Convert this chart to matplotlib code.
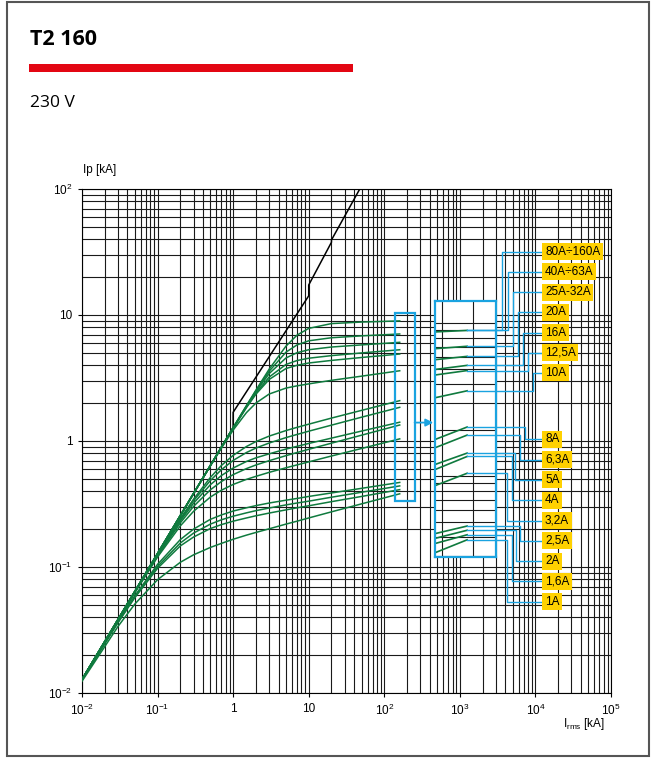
import numpy as np
import matplotlib
matplotlib.use("Agg")
import matplotlib.pyplot as plt
from matplotlib import ticker
from matplotlib.lines import Line2D
from matplotlib.patches import Rectangle

plt.rcParams['font.family'] = ['Liberation Sans', 'DejaVu Sans']
plt.rcParams['mathtext.fontset'] = 'custom'
plt.rcParams['mathtext.rm'] = 'Liberation Sans'
plt.rcParams['mathtext.it'] = 'Liberation Sans:italic'

# prospective symmetrical current Irms [kA] where the curves are read
irms = [0.01, 0.03, 0.05, 0.1, 0.2, 0.3, 0.5, 0.7, 1, 1.5, 2, 3, 5, 7, 10, 20, 50, 160]

# let-through peak current Ip [kA], one list per curve
ip_80_160 = [0.0128, 0.0384, 0.064, 0.128, 0.256, 0.384, 0.640, 0.896, 1.28, 1.91, 2.53,
             3.72, 5.66, 6.92, 7.83, 8.55, 8.79, 8.98]
ip_25_32 = [0.0128, 0.0384, 0.064, 0.128, 0.256, 0.384, 0.640, 0.895, 1.275, 1.90, 2.50,
            3.58, 5.07, 5.79, 6.24, 6.60, 6.83, 7.07]
ip_20 = [0.0128, 0.0384, 0.064, 0.128, 0.256, 0.384, 0.640, 0.894, 1.27, 1.88, 2.46,
         3.43, 4.56, 5.02, 5.30, 5.57, 5.79, 6.07]
ip_16 = [0.0128, 0.0384, 0.064, 0.128, 0.256, 0.384, 0.639, 0.892, 1.266, 1.86, 2.40,
         3.22, 4.05, 4.35, 4.54, 4.76, 5.00, 5.30]
ip_12_5 = [0.0128, 0.0384, 0.064, 0.128, 0.256, 0.384, 0.639, 0.891, 1.262, 1.84, 2.35,
           3.08, 3.76, 3.99, 4.16, 4.36, 4.60, 4.90]
ip_10 = [0.0128, 0.0384, 0.064, 0.128, 0.256, 0.384, 0.635, 0.878, 1.22, 1.68, 2.00,
         2.36, 2.63, 2.74, 2.84, 3.03, 3.27, 3.61]
ip_8 = [0.0128, 0.0383, 0.0636, 0.126, 0.242, 0.346, 0.514, 0.640, 0.769, 0.904, 0.989,
        1.094, 1.21, 1.283, 1.36, 1.52, 1.75, 2.09]
ip_6_3 = [0.0128, 0.0382, 0.0635, 0.125, 0.238, 0.336, 0.486, 0.592, 0.701, 0.810, 0.879,
          0.964, 1.064, 1.127, 1.196, 1.336, 1.545, 1.85]
ip_5 = [0.0128, 0.0382, 0.0633, 0.124, 0.232, 0.321, 0.450, 0.532, 0.610, 0.688, 0.735,
        0.791, 0.863, 0.907, 0.956, 1.054, 1.199, 1.41]
ip_4 = [0.0128, 0.0381, 0.0630, 0.122, 0.224, 0.303, 0.410, 0.477, 0.541, 0.604, 0.645,
        0.698, 0.765, 0.810, 0.859, 0.961, 1.112, 1.34]
ip_3_2 = [0.0128, 0.0380, 0.0626, 0.120, 0.212, 0.277, 0.359, 0.407, 0.452, 0.496, 0.524,
          0.564, 0.613, 0.646, 0.683, 0.760, 0.872, 1.04]
ip_2_5 = [0.0127, 0.0369, 0.0591, 0.105, 0.165, 0.200, 0.239, 0.259, 0.278, 0.295, 0.307,
          0.322, 0.339, 0.350, 0.363, 0.387, 0.421, 0.469]
ip_2 = [0.0127, 0.0366, 0.0582, 0.101, 0.155, 0.186, 0.219, 0.237, 0.253, 0.269, 0.280,
        0.294, 0.311, 0.322, 0.333, 0.358, 0.392, 0.440]
ip_1_6 = [0.0127, 0.0362, 0.0571, 0.0977, 0.147, 0.173, 0.202, 0.217, 0.231, 0.245, 0.255,
          0.268, 0.284, 0.295, 0.306, 0.330, 0.363, 0.411]
ip_1 = [0.0124, 0.0338, 0.0508, 0.0793, 0.109, 0.125, 0.143, 0.154, 0.166, 0.179, 0.188,
        0.201, 0.219, 0.231, 0.245, 0.274, 0.317, 0.381]

curves = [ip_80_160, ip_25_32, ip_20, ip_16, ip_12_5, ip_10,
          ip_8, ip_6_3, ip_5, ip_4, ip_3_2,
          ip_2_5, ip_2, ip_1_6, ip_1]

# prospective peak (black line)
peak_x = [0.01, 1, 1, 10, 10, 20, 20, 50]
peak_y = [0.0127, 1.28, 1.69, 14.2, 17.3, 37.8, 39.4, 106]

upper_labels = ["80A÷160A", "40A÷63A", "25A-32A", "20A", "16A", "12,5A", "10A"]
lower_labels = ["8A", "6,3A", "5A", "4A", "3,2A", "2,5A", "2A", "1,6A", "1A"]
label_curves = [ip_80_160, ip_80_160, ip_25_32, ip_20, ip_16, ip_12_5, ip_10,
                ip_8, ip_6_3, ip_5, ip_4, ip_3_2, ip_2_5, ip_2, ip_1_6, ip_1]

x_ticks = [1e-2, 1e-1, 1, 10, 1e2, 1e3, 1e4, 1e5]
x_ticklabels = [r'$\mathregular{10^{-2}}$', r'$\mathregular{10^{-1}}$', '1', '10',
                r'$\mathregular{10^{2}}$', r'$\mathregular{10^{3}}$',
                r'$\mathregular{10^{4}}$', r'$\mathregular{10^{5}}$']
y_ticks = [1e-2, 1e-1, 1, 10, 1e2]
y_ticklabels = [r'$\mathregular{10^{-2}}$', r'$\mathregular{10^{-1}}$', '1', '10',
                r'$\mathregular{10^{2}}$']

W, H = 652, 758
GREEN = '#0f7a3e'
BLUE = '#1aa3e0'
YELLOW = '#ffd100'


def fx(px):
    return px / W


def fy(py):
    return 1 - py / H


fig = plt.figure(figsize=(W / 100, H / 100), dpi=100)

# main chart
ax = fig.add_axes([fx(82), fy(693), (611 - 82) / W, (693 - 189) / H])
ax.set_xscale('log')
ax.set_yscale('log')
ax.set_xlim(1e-2, 1e5)
ax.set_ylim(1e-2, 1e2)
ax.set_xticks(x_ticks, x_ticklabels)
ax.set_yticks(y_ticks, y_ticklabels)
for axis in (ax.xaxis, ax.yaxis):
    axis.set_minor_locator(ticker.LogLocator(base=10, subs=np.arange(2, 10), numticks=50))
    axis.set_minor_formatter(ticker.NullFormatter())
ax.grid(True, which='both', color='#1a1a1a', lw=0.8)
ax.set_axisbelow(True)
ax.tick_params(which='major', direction='out', length=3, width=0.8, pad=4, labelsize=8.5)
ax.tick_params(which='minor', length=0)

ax.plot(peak_x, peak_y, color='black', lw=1.1, zorder=3)
for ip in curves:
    ax.plot(irms, ip, color=GREEN, lw=1.1, zorder=4)

# box around the curve ends and arrow to the enlarged view
ends = [c[-1] for c in curves]
x_end = irms[-1]
ax.add_patch(Rectangle((x_end * 0.86, min(ends) * 0.88), x_end * (1.575 - 0.86),
                       max(ends) * 1.16 - min(ends) * 0.88,
                       fill=False, ec=BLUE, lw=1.6, zorder=5))
ax.annotate('', xy=(445, 1.4), xytext=(x_end * 1.575, 1.4),
            arrowprops=dict(arrowstyle='-|>', color=BLUE, lw=1.3,
                            mutation_scale=11, shrinkA=0, shrinkB=0))

# enlarged view of the curve ends
axin = fig.add_axes([fx(435), fy(557), (495.5 - 435) / W, (557 - 301) / H])
axin.set_xscale('log')
axin.set_yscale('log')
axin.set_xlim(46.6, 477)
axin.set_ylim(0.294, 14.0)
axin.set_xticks([60, 200])
axin.xaxis.set_minor_locator(ticker.NullLocator())
axin.set_yticks([1, 10])
axin.yaxis.set_minor_locator(ticker.LogLocator(base=10, subs=np.arange(2, 10), numticks=50))
axin.grid(True, which='both', color='#1a1a1a', lw=0.8)
axin.set_axisbelow(True)
axin.tick_params(which='both', length=0, labelbottom=False, labelleft=False)
for s in axin.spines.values():
    s.set_color(BLUE)
    s.set_linewidth(1.6)
for ip in curves:
    axin.plot(irms, ip, color=GREEN, lw=1.2)

# labels and connectors
labels = upper_labels + lower_labels
label_py = [251.7 + 20.2 * i for i in range(7)] + [439.3 + 20.3 * j for j in range(9)]
turn_px = [502, 507.5, 512.5, 518, 523, 528, 533,
           525, 520, 515, 511.5, 506.5, 520, 516, 511.5, 506.5]
inv = fig.transFigure.inverted()
for text, ip, py, tx in zip(labels, label_curves, label_py, turn_px):
    x0, y0 = inv.transform(axin.transData.transform((x_end, ip[-1])))
    fig.add_artist(Line2D([x0, fx(tx), fx(tx), fx(541)], [y0, y0, fy(py), fy(py)],
                          color=BLUE, lw=1.0))
    fig.text(fx(545), fy(py), text, ha='left', va='center', fontsize=8.5,
             bbox=dict(boxstyle='square,pad=0.22', fc=YELLOW, ec='none'))

# header and axis titles
fig.text(fx(30), fy(45), 'T2 160', fontsize=15.5, fontweight='bold',
         family=['Open Sans', 'DejaVu Sans'], va='baseline')
fig.add_artist(Rectangle((fx(29.3), fy(72)), (353.5 - 29.3) / W, 8 / H,
                         color='#e30613', lw=0))
fig.text(fx(30), fy(106.7), '230 V', fontsize=12.5,
         family=['Open Sans', 'DejaVu Sans'], va='baseline')
fig.text(fx(83), fy(170), 'Ip [kA]', fontsize=8.5, va='center')
fig.text(fx(605), fy(727), r'$\mathregular{I_{rms}}$ [kA]', ha='right',
         va='baseline', fontsize=8.5)
fig.add_artist(Rectangle((fx(6.5), fy(755.5)), (648.5 - 6.5) / W, (755.5 - 1.5) / H,
                         fill=False, ec='#555555', lw=1.5))

fig.savefig('out.png', dpi=100)
